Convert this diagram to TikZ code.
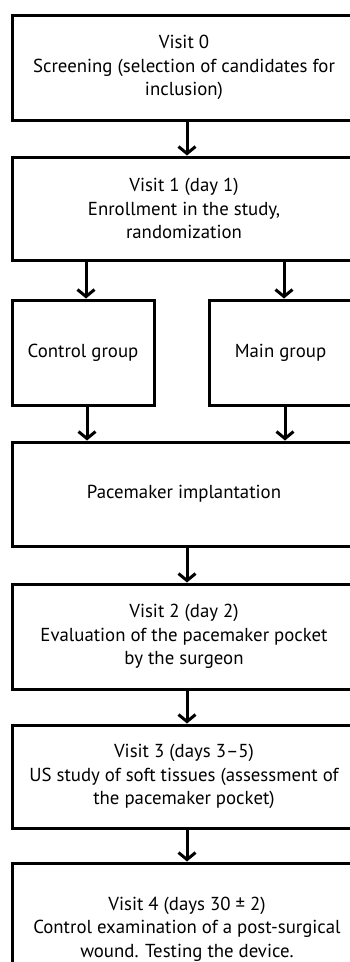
\documentclass[tikz,border=0pt]{standalone}
\usepackage{fontspec}
\setmainfont{PT Sans}
\usetikzlibrary{arrows.meta}
\begin{document}
\begin{tikzpicture}[x=1pt,y=-1pt,
  box/.style={draw=black, line width=3pt, rectangle, align=center, inner sep=0pt,
    font=\fontsize{18.8}{23.5}\selectfont},
  arr/.style={line width=3pt, -{Straight Barb[length=7pt,width=17pt,line width=3pt]}}]
\useasboundingbox (0,0) rectangle (350,962);
\clip (0,0) rectangle (350,962);
\fill[white] (0,0) rectangle (350,962);
\node[box, minimum width=344pt, minimum height=105pt] (b0) at (184,67.5)
  {Visit 0\\Screening (selection of candidates for\\inclusion)};
\node[box, minimum width=344pt, minimum height=103pt] (b1) at (184,208.5)
  {Visit 1 (day 1)\\Enrollment in the study,\\randomization};
\node[box, minimum width=142pt, minimum height=105pt] (ctl) at (83,352.5)
  {Control group};
\node[box, minimum width=143pt, minimum height=105pt] (mn) at (280.5,352.5)
  {Main group};
\node[box, minimum width=344pt, minimum height=104pt] (pm) at (184,494)
  {Pacemaker implantation};
\node[box, minimum width=344pt, minimum height=105pt] (v2) at (184,636.5)
  {Visit 2 (day 2)\\Evaluation of the pacemaker pocket\\by the surgeon};
\node[box, minimum width=344pt, minimum height=103pt] (v3) at (184,776.5)
  {Visit 3 (days 3–5)\\US study of soft tissues (assessment of\\the pacemaker pocket)};
\node[box, minimum width=344pt, minimum height=150pt] (v4) at (184,938)
  {};
\node[font=\fontsize{18.8}{23.5}\selectfont, align=center, inner sep=0pt] (v4t) at (187,929)
  {Visit 4 (days 30 ± 2)\\Control examination of a post-surgical\\wound. Testing the device.};
\draw[arr] ([xshift=3pt]b0.south) -- ([xshift=3pt]b1.north);
\draw[arr] (b1.south -| 86,0) -- (ctl.north -| 86,0);
\draw[arr] (b1.south -| 284,0) -- (mn.north -| 284,0);
\draw[arr] (ctl.south -| 87,0) -- (pm.north -| 87,0);
\draw[arr] (mn.south -| 285,0) -- (pm.north -| 285,0);
\draw[arr] ([xshift=3pt]pm.south) -- ([xshift=3pt]v2.north);
\draw[arr] ([xshift=3pt]v2.south) -- ([xshift=3pt]v3.north);
\draw[arr] ([xshift=3pt]v3.south) -- ([xshift=3pt]v4.north);
\end{tikzpicture}
\end{document}
